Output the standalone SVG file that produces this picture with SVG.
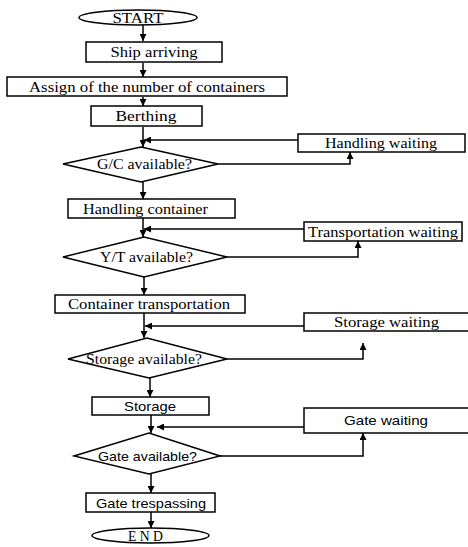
<svg xmlns="http://www.w3.org/2000/svg" width="468" height="547" viewBox="0 0 468 547">
<style>
.b{fill:#fff;stroke:#000;stroke-width:1.5}
.t{font-family:"Liberation Serif",serif;font-size:14px;fill:#000;text-anchor:middle}
.s{font-family:"Liberation Sans",sans-serif;font-size:13px;fill:#000;text-anchor:middle}
.c{fill:none;stroke:#000;stroke-width:1.5}
</style>
<defs>
<marker id="a" viewBox="0 0 10 10" refX="10" refY="5" markerWidth="7" markerHeight="7" orient="auto" markerUnits="userSpaceOnUse"><path d="M0,0 L10,5 L0,10 Z" fill="#000"/></marker>
</defs>
<g id="connectors">
<path class="c" d="M143,25 V41" marker-end="url(#a)"/>
<path class="c" d="M143,63 V77" marker-end="url(#a)"/>
<path class="c" d="M143,97 V106" marker-end="url(#a)"/>
<path class="c" d="M143,127 V147" marker-end="url(#a)"/>
<path class="c" d="M298,140 H144" marker-end="url(#a)"/>
<path class="c" d="M218,164 H350 V152" marker-end="url(#a)"/>
<path class="c" d="M143,182 V199" marker-end="url(#a)"/>
<path class="c" d="M143,218 V237" marker-end="url(#a)"/>
<path class="c" d="M304,229 H144" marker-end="url(#a)"/>
<path class="c" d="M227,257 H358 V241" marker-end="url(#a)"/>
<path class="c" d="M144,277 V295" marker-end="url(#a)"/>
<path class="c" d="M144,313 V338" marker-end="url(#a)"/>
<path class="c" d="M304,326 H145" marker-end="url(#a)"/>
<path class="c" d="M227,359 H363 V343" marker-end="url(#a)"/>
<path class="c" d="M150,378 V397" marker-end="url(#a)"/>
<path class="c" d="M151,415 V433" marker-end="url(#a)"/>
<path class="c" d="M304,427 H157" marker-end="url(#a)"/>
<path class="c" d="M220,456 H363 V433" marker-end="url(#a)"/>
<path class="c" d="M151,474 V493" marker-end="url(#a)"/>
<path class="c" d="M151,512 V528" marker-end="url(#a)"/>
</g>
<g id="start"><ellipse class="b" cx="138" cy="17.5" rx="59" ry="7.5"/><text class="t" x="138" y="22.5" textLength="51" lengthAdjust="spacingAndGlyphs">START</text></g>
<g id="ship"><rect class="b" x="86" y="42" width="136" height="20"/><text class="t" x="154" y="57" textLength="87" lengthAdjust="spacingAndGlyphs">Ship arriving</text></g>
<g id="assign"><rect class="b" x="7" y="77" width="280" height="19"/><text class="t" x="147" y="91.5" textLength="236" lengthAdjust="spacingAndGlyphs">Assign of the number of containers</text></g>
<g id="berthing"><rect class="b" x="91" y="106" width="111" height="20"/><text class="t" x="146" y="121" textLength="61" lengthAdjust="spacingAndGlyphs">Berthing</text></g>
<g id="handlingWaiting"><rect class="b" x="298" y="134" width="167" height="18"/><text class="t" x="381" y="148" textLength="112" lengthAdjust="spacingAndGlyphs">Handling waiting</text></g>
<g id="gc"><polygon class="b" points="63,164 141,147 218,164 141,182"/><text class="t" x="144.5" y="169" textLength="95" lengthAdjust="spacingAndGlyphs">G/C available?</text></g>
<g id="handlingContainer"><rect class="b" x="68" y="199" width="167" height="19"/><text class="t" x="145.5" y="213.5" textLength="125" lengthAdjust="spacingAndGlyphs">Handling container</text></g>
<g id="transportationWaiting"><rect class="b" x="304" y="222" width="158" height="19"/><text class="t" x="383" y="236.5" textLength="150" lengthAdjust="spacingAndGlyphs">Transportation waiting</text></g>
<g id="yt"><polygon class="b" points="63,257 144,237 227,257 144,277"/><text class="t" x="146.5" y="262" textLength="93" lengthAdjust="spacingAndGlyphs">Y/T available?</text></g>
<g id="containerTransportation"><rect class="b" x="55" y="295" width="190" height="18"/><text class="t" x="149" y="309" textLength="162" lengthAdjust="spacingAndGlyphs">Container transportation</text></g>
<g id="storageWaiting"><path class="b" d="M470,313 H304 V331 H470"/><text class="t" x="386.5" y="327" textLength="105" lengthAdjust="spacingAndGlyphs">Storage waiting</text></g>
<g id="storageAvail"><polygon class="b" points="68,359 147,338 227,359 149,378"/><text class="t" x="144" y="364" textLength="116" lengthAdjust="spacingAndGlyphs">Storage available?</text></g>
<g id="storage"><rect class="b" x="92" y="397" width="117" height="18"/><text class="s" x="150" y="411" textLength="52" lengthAdjust="spacingAndGlyphs">Storage</text></g>
<g id="gateWaiting"><path class="b" d="M470,408 H304 V433 H470"/><text class="s" x="386" y="425" textLength="84" lengthAdjust="spacingAndGlyphs">Gate waiting</text></g>
<g id="gate"><polygon class="b" points="74,456 149,433 220,456 149,474"/><text class="s" x="147.5" y="461" textLength="99" lengthAdjust="spacingAndGlyphs">Gate available?</text></g>
<g id="gateTrespassing"><rect class="b" x="86" y="493" width="129" height="19"/><text class="s" x="151" y="507.5" textLength="110" lengthAdjust="spacingAndGlyphs">Gate trespassing</text></g>
<g id="end"><ellipse class="b" cx="150.5" cy="535.5" rx="58.5" ry="7.5"/><text class="t" x="145.5" y="540.5" textLength="35" lengthAdjust="spacingAndGlyphs">E N D</text></g>
</svg>
